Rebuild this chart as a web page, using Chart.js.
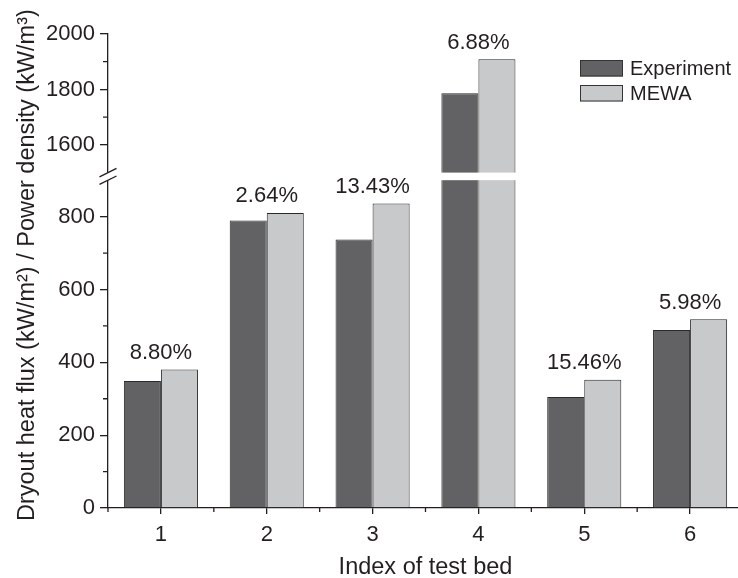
<!DOCTYPE html>
<html>
<head>
<meta charset="utf-8">
<script src="https://cdn.jsdelivr.net/npm/chart.js@4.4.1/dist/chart.umd.min.js"></script>
<style>
  html, body { margin: 0; padding: 0; background: #fff; overflow: hidden; }
  canvas { display: block; }
</style>
</head>
<body>
<canvas id="dryoutChart" width="745" height="578"></canvas>
<script>
// values
const testBeds = ['1', '2', '3', '4', '5', '6'];
const experiment = [349, 789, 737, 1786, 305, 489];
const mewa = [380, 810, 836, 1909, 352, 518];
const errorLabels = ['8.80%', '2.64%', '13.43%', '6.88%', '15.46%', '5.98%'];
const yTicks = [0, 200, 400, 600, 800, 1600, 1800, 2000];
const yMinorTicks = [100, 300, 500, 700, 1700, 1900];

const ink = '#231f20';
const fontFamily = '"Liberation Sans", Arial, Helvetica, sans-serif';

// y axis with a break between 900 and 1500
const axisBreak = { low: 900, high: 1500, lowFrac: 0.6916, gapFrac: 0.016 };

class BrokenLinearScale extends Chart.LinearScale {
  buildTicks() {
    return yTicks.map(v => ({ value: v }));
  }
  getPixelForValue(value) {
    if (value === null || value === undefined) return NaN;
    const h = this.bottom - this.top;
    const b = axisBreak;
    if (value <= b.low) {
      return this.bottom - (value - this.min) / (b.low - this.min) * b.lowFrac * h;
    }
    if (value >= b.high) {
      const upFrac = 1 - b.lowFrac - b.gapFrac;
      return this.top + (this.max - value) / (this.max - b.high) * upFrac * h;
    }
    return this.bottom - (b.lowFrac + (value - b.low) / (b.high - b.low) * b.gapFrac) * h;
  }
  getValueForPixel(pixel) {
    const h = this.bottom - this.top;
    const b = axisBreak;
    const frac = (this.bottom - pixel) / h;
    if (frac <= b.lowFrac) return this.min + frac / b.lowFrac * (b.low - this.min);
    if (frac >= b.lowFrac + b.gapFrac) {
      const upFrac = 1 - b.lowFrac - b.gapFrac;
      return this.max - (pixel - this.top) / (upFrac * h) * (this.max - b.high);
    }
    return b.low + (frac - b.lowFrac) / b.gapFrac * (b.high - b.low);
  }
}
BrokenLinearScale.id = 'brokenLinear';
BrokenLinearScale.defaults = Chart.LinearScale.defaults;
Chart.register(BrokenLinearScale);

const extras = {
  id: 'extras',
  afterDatasetsDraw(chart) {
    const ctx = chart.ctx;
    const y = chart.scales.y;
    const area = chart.chartArea;
    const yHigh = y.getPixelForValue(axisBreak.high);
    const yLow = y.getPixelForValue(axisBreak.low);
    // white gap across the broken range
    ctx.save();
    ctx.fillStyle = '#fff';
    ctx.fillRect(area.left - 3, yHigh, area.right - area.left + 6, yLow - yHigh);
    ctx.restore();
  },
  afterDraw(chart) {
    const ctx = chart.ctx;
    const x = chart.scales.x;
    const y = chart.scales.y;
    const area = chart.chartArea;
    ctx.save();
    ctx.strokeStyle = ink;
    ctx.lineWidth = 1.3;

    // break marks
    [axisBreak.high, axisBreak.low].forEach(v => {
      const py = y.getPixelForValue(v);
      ctx.beginPath();
      ctx.moveTo(area.left - 8.5, py + 4.2);
      ctx.lineTo(area.left + 8.5, py - 4.2);
      ctx.stroke();
    });

    // minor ticks
    ctx.beginPath();
    yMinorTicks.forEach(v => {
      const py = y.getPixelForValue(v);
      ctx.moveTo(area.left - 5, py);
      ctx.lineTo(area.left, py);
    });
    for (let i = 0; i <= testBeds.length; i++) {
      const px = x.getPixelForValue(i - 0.5);
      ctx.moveTo(px, area.bottom);
      ctx.lineTo(px, area.bottom + 4);
    }
    ctx.stroke();

    // relative deviation labels
    ctx.fillStyle = ink;
    ctx.font = '22px ' + fontFamily;
    ctx.textAlign = 'center';
    ctx.textBaseline = 'alphabetic';
    errorLabels.forEach((txt, i) => {
      const top = y.getPixelForValue(Math.max(experiment[i], mewa[i]));
      ctx.fillText(txt, x.getPixelForValue(i), top - 10.5);
    });

    // legend
    ctx.font = '20px ' + fontFamily;
    ctx.textAlign = 'left';
    ctx.textBaseline = 'middle';
    ctx.lineWidth = 1;
    chart.data.datasets.forEach((ds, i) => {
      const by = 60 + i * 25;
      ctx.fillStyle = ds.backgroundColor;
      ctx.fillRect(580, by, 43, 16.5);
      ctx.strokeStyle = '#333';
      ctx.strokeRect(580.5, by + 0.5, 42, 15.5);
      ctx.fillStyle = ink;
      ctx.fillText(ds.label, 630, by + 9);
    });

    // axis titles
    ctx.font = '23.5px ' + fontFamily;
    ctx.textAlign = 'center';
    ctx.textBaseline = 'alphabetic';
    ctx.fillText('Index of test bed', (area.left + area.right) / 2, 573.5);

    ctx.translate(33.5, 521);
    ctx.rotate(-Math.PI / 2);
    ctx.textAlign = 'left';
    ctx.fillText('Dryout heat flux (kW/m\u00b2) / Power density (kW/m\u00b3)', 0, 0);
    ctx.restore();
  }
};

new Chart(document.getElementById('dryoutChart'), {
  type: 'bar',
  data: {
    labels: testBeds,
    datasets: [{
      label: 'Experiment',
      data: experiment,
      backgroundColor: '#626264',
      borderColor: '#2a2a2a',
      borderWidth: 1
    }, {
      label: 'MEWA',
      data: mewa,
      backgroundColor: '#c8c9cb',
      borderColor: '#2a2a2a',
      borderWidth: 1
    }]
  },
  options: {
    responsive: false,
    animation: false,
    events: [],
    layout: { padding: { top: 34, right: 2, left: 0, bottom: 0 } },
    datasets: {
      bar: { categoryPercentage: 0.7, barPercentage: 1.0 }
    },
    plugins: {
      legend: { display: false },
      tooltip: { enabled: false }
    },
    scales: {
      x: {
        type: 'category',
        offset: true,
        grid: { display: true, drawOnChartArea: false, offset: false, tickLength: 6, color: ink, lineWidth: 1.3 },
        border: { display: true, color: ink, width: 1.3 },
        ticks: { color: ink, font: { family: fontFamily, size: 22 }, padding: 8, maxRotation: 0 },
        afterFit(scale) { scale.height = 70; }
      },
      y: {
        type: 'brokenLinear',
        min: 0,
        max: 2000,
        grid: { display: true, drawOnChartArea: false, tickLength: 8, color: ink, lineWidth: 1.3 },
        border: { display: true, color: ink, width: 1.3 },
        ticks: {
          color: ink,
          font: { family: fontFamily, size: 22 },
          padding: 5,
          autoSkip: false,
          callback: v => String(v)
        },
        afterFit(scale) { scale.width = 108; }
      }
    }
  },
  plugins: [extras]
});
</script>
</body>
</html>
